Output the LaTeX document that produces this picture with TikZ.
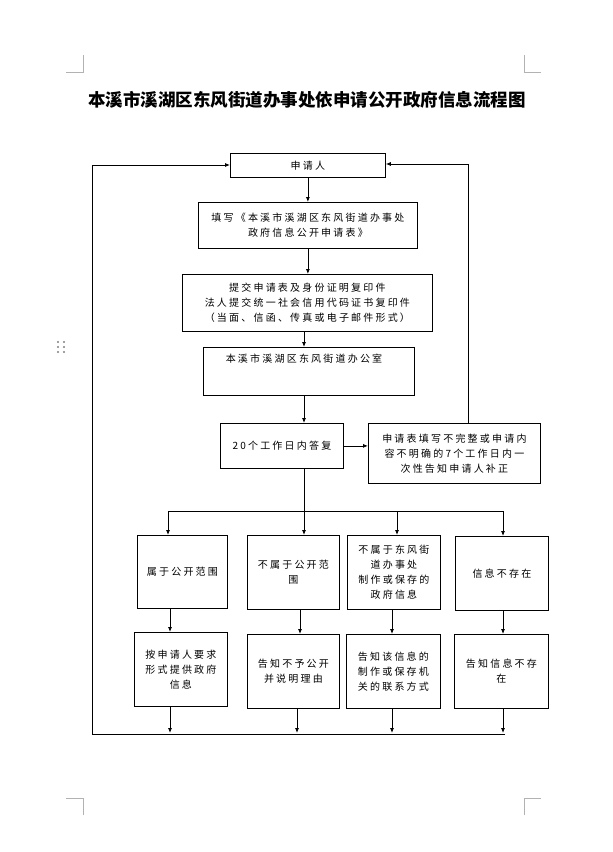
\documentclass[tikz,border=0pt]{standalone}
\usepackage{fontspec}
\setmainfont{Noto Sans CJK SC}
\newfontfamily\spaced[LetterSpace=22]{Noto Sans CJK SC}
\usetikzlibrary{arrows.meta}
\begin{document}
\begin{tikzpicture}[x=1pt,y=-1pt,
  box/.style={draw,line width=0.8pt,inner sep=1pt,font=\spaced\fontsize{10}{15}\selectfont,align=center,anchor=north west},
  arr/.style={-{Latex[length=5pt,width=4pt]},line width=0.8pt},
  ln/.style={line width=0.8pt},
  crop/.style={gray!60,line width=0.5pt}]
\useasboundingbox (0,0) rectangle (613,852);
\fill[white] (0,0) rectangle (613,852);
\draw[crop] (83,55)--(83,72)--(66,72);
\draw[crop] (524,55)--(524,72)--(541,72);
\draw[crop] (83,815)--(83,798)--(66,798);
\draw[crop] (524,815)--(524,798)--(541,798);
\foreach \yy in {342,347,352}{\fill[gray] (58,\yy) circle (1.1pt); \fill[gray] (64,\yy) circle (1.1pt);}
\node[font=\fontsize{17.5}{20}\selectfont\bfseries] (title) at (307,100) {本溪市溪湖区东风街道办事处依申请公开政府信息流程图};
\node[box,minimum width=155pt,minimum height=24pt] (s) at (230,153) {申请人};
\node[box,minimum width=219pt,minimum height=46pt] (f) at (198,202) {填写《本溪市溪湖区东风街道办事处\\政府信息公开申请表》};
\node[box,minimum width=250pt,minimum height=57pt] (t) at (182,274) {提交申请表及身份证明复印件\\法人提交统一社会信用代码证书复印件\\（当面、信函、传真或电子邮件形式）};
\node[box,minimum width=211pt,minimum height=48pt,anchor=north west] (o) at (203,347) {};
\node[font=\spaced\fontsize{10}{15}\selectfont,anchor=north] at (304,350) {本溪市溪湖区东风街道办公室};
\node[box,minimum width=123pt,minimum height=45pt] (r) at (220,423) {20个工作日内答复};
\node[box,minimum width=172pt,minimum height=60pt] (b) at (368,423) {申请表填写不完整或申请内\\容不明确的7个工作日内一\\次性告知申请人补正};
\node[box,minimum width=90pt,minimum height=73pt] (a1) at (137,535) {属于公开范围};
\node[box,minimum width=92pt,minimum height=74pt] (b1) at (247,535) {不属于公开范\\围};
\node[box,minimum width=93pt,minimum height=74pt] (c1) at (347,535) {不属于东风街\\道办事处\\制作或保存的\\政府信息};
\node[box,minimum width=93pt,minimum height=74pt] (d1) at (455,536) {信息不存在};
\node[box,minimum width=93pt,minimum height=74pt] (a2) at (134,632) {按申请人要求\\形式提供政府\\信息};
\node[box,minimum width=92pt,minimum height=74pt] (b2) at (247,634) {告知不予公开\\并说明理由};
\node[box,minimum width=94pt,minimum height=74pt] (c2) at (346,634) {告知该信息的\\制作或保存机\\关的联系方式};
\node[box,minimum width=94pt,minimum height=74pt] (d2) at (454,634) {告知信息不存\\在};
\draw[arr] (s.south) -- (f.north);
\draw[arr] (f.south) -- (f.south|-t.north);
\draw[arr] (t.south-|304,0) -- (304,347);
\draw[arr] (304,395) -- (r.north-|304,0);
\draw[arr] (r.east) -- (b.west|-r.east);
\draw[arr] (b.north-|468,0) -- (468,164) -- (s.east|-0,164);
\coordinate (j) at (304,511);
\draw[ln] (r.south-|304,0) -- (j);
\draw[ln] (168,511) -- (503,511);
\draw[arr] (168,511) -- (168,535);
\draw[arr] (j) -- (304,535);
\draw[arr] (397,511) -- (397,535);
\draw[arr] (503,511) -- (503,536);
\draw[arr] (170,608) -- (170,632);
\draw[arr] (300,609) -- (300,634);
\draw[arr] (392,609) -- (392,634);
\draw[arr] (503,610) -- (503,634);
\draw[arr] (170,706) -- (170,733);
\draw[arr] (297,708) -- (297,733);
\draw[arr] (392,708) -- (392,733);
\draw[arr] (503,708) -- (503,733);
\coordinate (bl) at (92,734);
\draw[ln] (505,734) -- (bl);
\draw[arr] (bl) -- (92,165) -- (s.west|-0,165);
\end{tikzpicture}
\end{document}
